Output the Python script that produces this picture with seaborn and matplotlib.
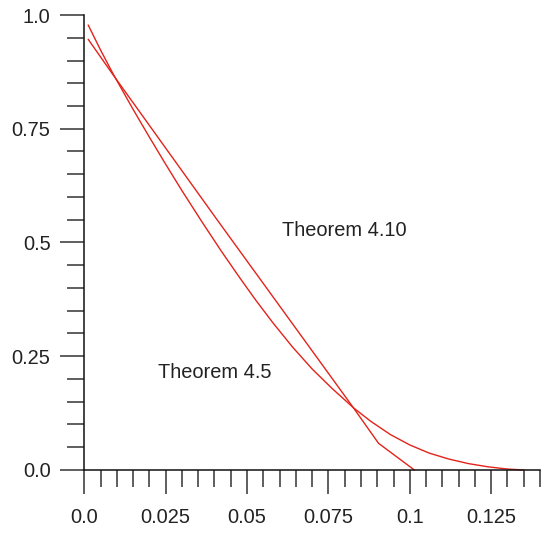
import numpy as np
import matplotlib
matplotlib.use("Agg")
import matplotlib.pyplot as plt
from matplotlib.ticker import MultipleLocator, FixedLocator
import seaborn as sns

# values
# Theorem 4.10 (nearly straight, kink near 0.09)
x_thm410 = [0.0012, 0.0089, 0.0409, 0.0828, 0.0904, 0.1014]
y_thm410 = [0.9466, 0.868, 0.549, 0.1355, 0.0586, 0.0]

# Theorem 4.5 (convex curve with long tail)
x_thm45 = [0.0012, 0.005, 0.0089, 0.015, 0.020, 0.025, 0.030, 0.036,
           0.042, 0.048, 0.0526, 0.058, 0.064, 0.070, 0.076, 0.0828,
           0.088, 0.094, 0.100, 0.106, 0.112, 0.118, 0.124, 0.130, 0.135]
y_thm45 = [0.978, 0.923, 0.870, 0.7925, 0.7315, 0.672, 0.614, 0.547,
           0.482, 0.420, 0.374, 0.323, 0.270, 0.222, 0.180, 0.136,
           0.107, 0.078, 0.055, 0.037, 0.024, 0.014, 0.007, 0.002, 0.0]

x_major = [0.0, 0.025, 0.05, 0.075, 0.1, 0.125]
x_labels = ["0.0", "0.025", "0.05", "0.075", "0.1", "0.125"]
y_major = [0.0, 0.25, 0.5, 0.75, 1.0]
y_labels = ["0.0", "0.25", "0.5", "0.75", "1.0"]

sns.set_style("ticks")
plt.rcParams['font.family'] = ['Liberation Sans', 'DejaVu Sans']

fig = plt.figure(figsize=(5.48, 5.34), dpi=100)
ax = fig.add_axes([0.1538, 0.1199, 0.9854 - 0.1538, 0.9719 - 0.1199])

red = "#e2231a"
sns.lineplot(x=x_thm410, y=y_thm410, ax=ax, color=red, linewidth=1.0, sort=False)
sns.lineplot(x=x_thm45, y=y_thm45, ax=ax, color=red, linewidth=1.0, sort=False)

ax.set_xlim(0, 0.14)
ax.set_ylim(0, 1.0)
for ln in ax.lines:
    ln.set_clip_on(False)
    ln.set_solid_joinstyle("round")

ax.xaxis.set_major_locator(FixedLocator(x_major))
ax.set_xticklabels(x_labels)
ax.xaxis.set_minor_locator(MultipleLocator(0.005))
ax.yaxis.set_major_locator(FixedLocator(y_major))
ax.set_yticklabels(y_labels)
ax.yaxis.set_minor_locator(MultipleLocator(0.05))

sns.despine(ax=ax)
for side in ["left", "bottom"]:
    ax.spines[side].set_linewidth(1.1)
    ax.spines[side].set_color("#111111")

ax.tick_params(which="major", direction="out", length=17.3, width=1.1,
               color="#333333", labelsize=14.4, labelcolor="#222222")
ax.tick_params(which="minor", direction="out", length=12.2, width=1.1,
               color="#333333")
ax.tick_params(axis="x", which="major", pad=10)
ax.tick_params(axis="y", which="major", pad=7)

ax.text(0.0608, 0.527, "Theorem 4.10", fontsize=14.4, color="#222222",
        ha="left", va="center")
ax.text(0.0227, 0.215, "Theorem 4.5", fontsize=14.4, color="#222222",
        ha="left", va="center")

ax.set_xlabel("")
ax.set_ylabel("")

fig.savefig("out.png", dpi=100)
